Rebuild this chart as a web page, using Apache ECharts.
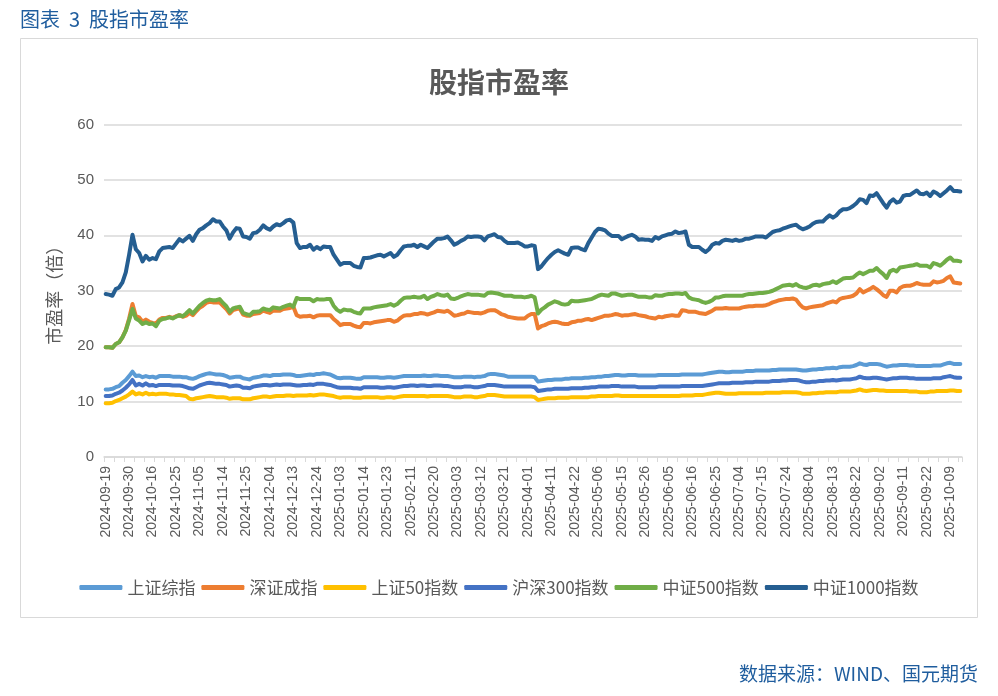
<!DOCTYPE html>
<html>
<head>
<meta charset="utf-8">
<script src="https://cdn.jsdelivr.net/npm/echarts@6/dist/echarts.min.js"></script>
<style>
html,body{margin:0;padding:0;background:#fff;}
#c{width:998px;height:696px;}
</style>
</head>
<body>
<div id="c"></div>
<script>
// ---- calendar (trading days) ----
const startDate = '2024-09-19';
const endDate = '2025-10-14';
const holidays = ['2024-10-01','2024-10-02','2024-10-03','2024-10-04','2024-10-07',
  '2025-01-01','2025-01-28','2025-01-29','2025-01-30','2025-01-31','2025-02-03','2025-02-04',
  '2025-04-04','2025-05-01','2025-05-02','2025-05-05','2025-06-02',
  '2025-10-01','2025-10-02','2025-10-03','2025-10-06','2025-10-07','2025-10-08'];

// ---- series values (P/E) ----
const sseComposite = [
12.2,12.2,12.3,12.6,12.8,13.4,13.9,14.6,15.4,14.6,
14.7,14.4,14.6,14.4,14.5,14.3,14.6,14.6,14.6,14.6,
14.5,14.5,14.5,14.4,14.4,14.2,14.1,14.3,14.6,14.8,
15.0,15.1,15.0,14.9,14.9,14.8,14.6,14.3,14.4,14.5,
14.5,14.2,14.1,14.0,14.3,14.4,14.5,14.7,14.7,14.6,
14.8,14.8,14.8,14.9,14.9,14.9,14.8,14.6,14.6,14.7,
14.8,14.9,14.8,15.0,15.0,15.1,15.0,14.9,14.6,14.3,
14.2,14.3,14.3,14.3,14.2,14.1,14.1,14.4,14.4,14.4,
14.4,14.4,14.3,14.3,14.4,14.4,14.3,14.4,14.5,14.6,
14.6,14.6,14.6,14.6,14.6,14.7,14.6,14.6,14.7,14.7,
14.6,14.6,14.6,14.5,14.4,14.4,14.4,14.5,14.5,14.5,
14.4,14.5,14.5,14.6,14.9,15.0,15.0,14.9,14.8,14.7,
14.5,14.5,14.5,14.5,14.5,14.5,14.5,14.5,14.4,13.6,
13.7,13.8,13.9,13.9,14.0,14.0,14.0,14.1,14.1,14.2,
14.2,14.2,14.2,14.3,14.3,14.4,14.4,14.5,14.5,14.6,
14.6,14.7,14.8,14.8,14.7,14.7,14.8,14.8,14.8,14.7,
14.7,14.7,14.7,14.7,14.7,14.8,14.8,14.8,14.8,14.8,
14.8,14.8,14.9,14.9,14.9,14.9,14.9,14.9,14.9,15.0,
15.1,15.2,15.3,15.4,15.4,15.3,15.3,15.4,15.4,15.4,
15.4,15.5,15.5,15.5,15.6,15.6,15.6,15.6,15.6,15.7,
15.7,15.8,15.8,15.8,15.8,15.8,15.8,15.7,15.6,15.6,
15.7,15.8,15.8,15.9,15.9,16.0,16.0,16.1,16.0,16.2,
16.3,16.3,16.3,16.4,16.6,16.9,16.7,16.6,16.8,16.8,
16.8,16.7,16.5,16.3,16.4,16.5,16.5,16.6,16.6,16.6,
16.5,16.5,16.4,16.4,16.4,16.4,16.4,16.5,16.5,16.5,
16.7,16.9,17.0,16.8,16.8,16.8];

const szseComponent = [
19.8,19.8,19.7,20.4,20.7,21.6,22.9,25.0,27.6,25.4,
25.2,24.4,24.8,24.4,24.2,24.1,24.8,25.1,25.1,25.3,
25.1,25.4,25.6,25.3,25.5,26.0,25.6,26.3,26.9,27.3,
27.8,28.0,27.9,27.9,27.9,27.3,26.7,25.9,26.5,26.7,
26.8,25.7,25.5,25.5,25.8,25.9,26.0,26.4,26.2,26.0,
26.4,26.4,26.4,26.7,26.8,26.9,27.1,25.6,25.3,25.4,
25.4,25.5,25.2,25.5,25.6,25.6,25.6,25.6,24.9,24.4,
23.8,24.0,24.0,24.0,23.7,23.5,23.4,24.2,24.2,24.1,
24.3,24.4,24.5,24.6,24.7,24.7,24.4,24.6,25.1,25.5,
25.6,25.6,25.8,25.8,26.0,25.9,25.7,25.9,26.1,26.4,
26.3,26.2,26.4,26.0,25.5,25.6,25.8,25.9,26.2,26.1,
26.0,26.0,25.9,26.1,26.4,26.5,26.5,26.2,25.8,25.6,
25.3,25.2,25.1,25.0,25.0,25.0,25.5,25.8,25.8,23.2,
23.6,23.8,24.1,24.3,24.4,24.3,24.1,24.0,24.0,24.3,
24.4,24.6,24.6,24.8,24.9,24.7,24.9,25.1,25.3,25.5,
25.5,25.6,25.8,25.7,25.5,25.6,25.6,25.7,25.8,25.6,
25.5,25.4,25.2,25.1,25.0,25.3,25.2,25.4,25.5,25.6,
25.5,25.5,26.5,26.4,26.2,26.2,26.2,26.0,25.9,25.8,
26.1,26.4,26.8,26.8,26.8,26.9,26.8,26.8,26.8,26.8,
27.0,27.1,27.2,27.2,27.3,27.3,27.3,27.4,27.6,27.9,
28.1,28.3,28.4,28.5,28.5,28.6,28.4,27.6,27.0,26.8,
27.0,27.1,27.2,27.3,27.4,27.7,27.9,28.1,27.9,28.5,
28.7,28.8,28.9,29.1,29.5,30.3,29.7,30.0,30.3,30.7,
30.3,29.8,29.2,28.9,30.0,30.0,29.7,30.5,30.8,30.9,
30.9,31.1,31.4,31.2,31.1,31.1,31.1,31.7,31.5,31.6,
31.8,32.3,32.6,31.5,31.4,31.3];

const sse50 = [
9.7,9.7,9.8,10.1,10.3,10.6,10.9,11.3,11.8,11.3,
11.5,11.3,11.6,11.3,11.4,11.3,11.4,11.4,11.4,11.3,
11.3,11.2,11.2,11.1,11.0,10.5,10.4,10.6,10.7,10.8,
10.9,11.0,10.9,10.8,10.8,10.8,10.7,10.5,10.6,10.6,
10.6,10.4,10.4,10.4,10.6,10.7,10.8,10.9,10.9,10.8,
10.9,11.0,11.0,11.0,11.1,11.1,11.0,11.1,11.1,11.1,
11.1,11.2,11.1,11.2,11.3,11.3,11.2,11.1,11.0,10.8,
10.7,10.8,10.8,10.8,10.7,10.7,10.7,10.8,10.8,10.8,
10.8,10.8,10.7,10.7,10.8,10.8,10.7,10.8,10.9,11.0,
11.0,11.0,11.0,11.0,11.0,11.0,10.9,11.0,11.0,11.0,
11.0,11.0,11.0,10.9,10.8,10.8,10.8,10.9,10.9,10.9,
10.8,10.8,10.9,11.0,11.2,11.2,11.2,11.1,11.0,10.9,
10.9,10.9,10.9,10.9,10.9,10.9,10.9,10.9,10.8,10.3,
10.4,10.5,10.6,10.6,10.6,10.7,10.7,10.7,10.7,10.8,
10.8,10.8,10.8,10.8,10.8,10.9,10.9,11.0,11.0,11.0,
11.0,11.0,11.1,11.1,11.0,11.0,11.0,11.0,11.0,11.0,
11.0,11.0,11.0,11.0,11.0,11.0,11.0,11.0,11.0,11.0,
11.0,11.0,11.1,11.1,11.1,11.1,11.2,11.2,11.2,11.3,
11.4,11.5,11.6,11.6,11.5,11.4,11.4,11.4,11.4,11.5,
11.5,11.5,11.5,11.5,11.5,11.5,11.5,11.6,11.6,11.6,
11.6,11.6,11.7,11.7,11.7,11.7,11.7,11.6,11.4,11.4,
11.4,11.5,11.5,11.6,11.6,11.7,11.7,11.7,11.7,11.8,
11.8,11.8,11.8,11.9,12.0,12.2,12.0,11.9,12.0,12.1,
12.1,12.0,12.0,11.9,11.9,11.9,11.9,11.9,11.9,11.9,
11.8,11.8,11.8,11.7,11.7,11.7,11.8,11.8,11.9,11.9,
11.9,11.9,12.0,12.0,11.9,11.9];

const csi300 = [
11.0,11.0,11.1,11.4,11.6,12.0,12.5,13.1,13.9,12.9,
13.2,12.9,13.3,12.9,13.0,12.8,13.0,13.0,13.0,13.0,
12.9,12.9,12.9,12.8,12.6,12.4,12.3,12.6,12.9,13.1,
13.3,13.4,13.3,13.2,13.2,13.1,13.0,12.7,12.8,12.9,
12.8,12.5,12.5,12.4,12.7,12.8,12.9,13.0,13.0,12.9,
13.0,13.1,13.0,13.1,13.1,13.1,13.0,12.9,12.9,13.0,
13.0,13.1,13.0,13.2,13.2,13.2,13.1,13.0,12.8,12.6,
12.5,12.5,12.5,12.5,12.4,12.4,12.3,12.6,12.6,12.6,
12.6,12.6,12.5,12.5,12.6,12.6,12.5,12.6,12.7,12.8,
12.8,12.9,12.9,12.8,12.9,12.9,12.8,12.8,12.9,12.9,
12.9,12.8,12.8,12.7,12.6,12.6,12.6,12.7,12.7,12.7,
12.6,12.6,12.7,12.8,13.0,13.0,13.0,12.9,12.8,12.7,
12.7,12.7,12.7,12.7,12.7,12.7,12.7,12.7,12.6,11.9,
12.0,12.1,12.2,12.2,12.3,12.3,12.3,12.3,12.3,12.4,
12.4,12.4,12.4,12.5,12.5,12.6,12.6,12.7,12.7,12.7,
12.7,12.8,12.8,12.8,12.7,12.7,12.7,12.7,12.7,12.6,
12.6,12.6,12.6,12.6,12.6,12.7,12.7,12.7,12.7,12.7,
12.7,12.7,12.8,12.8,12.8,12.8,12.8,12.8,12.8,12.9,
13.0,13.1,13.2,13.3,13.3,13.3,13.3,13.4,13.4,13.4,
13.4,13.5,13.5,13.5,13.6,13.6,13.6,13.6,13.6,13.7,
13.7,13.7,13.8,13.8,13.9,13.9,13.9,13.8,13.6,13.5,
13.5,13.6,13.6,13.7,13.7,13.8,13.8,13.9,13.8,13.9,
14.0,14.0,14.0,14.1,14.2,14.5,14.3,14.2,14.2,14.3,
14.3,14.2,14.1,14.0,14.1,14.2,14.2,14.3,14.3,14.3,
14.2,14.2,14.1,14.1,14.1,14.1,14.1,14.2,14.2,14.2,
14.4,14.5,14.6,14.4,14.3,14.3];

const csi500 = [
19.8,19.8,19.7,20.4,20.7,21.6,22.8,24.7,26.7,25.0,
24.6,24.0,24.3,24.0,24.1,23.6,24.6,24.9,25.0,25.2,
25.0,25.3,25.6,25.4,25.9,26.5,25.9,26.6,27.3,27.8,
28.2,28.4,28.3,28.3,28.5,27.8,27.2,26.2,26.8,27.0,
27.1,26.0,25.8,25.6,26.2,26.2,26.3,26.8,26.6,26.5,
27.0,26.9,26.8,27.1,27.3,27.5,27.1,28.7,28.5,28.5,
28.5,28.5,28.1,28.5,28.4,28.4,28.5,28.5,27.3,26.6,
26.2,26.6,26.5,26.5,26.2,26.0,25.9,26.8,26.8,26.8,
27.0,27.1,27.2,27.3,27.4,27.6,27.3,27.6,28.2,28.7,
28.8,28.8,28.9,28.8,28.8,29.1,28.5,28.9,29.1,29.4,
29.2,29.1,29.3,28.6,28.5,28.7,29.0,29.2,29.4,29.3,
29.3,29.3,29.2,29.1,29.6,29.7,29.6,29.5,29.3,29.1,
29.1,29.1,28.9,28.9,28.9,28.8,28.9,29.1,28.8,25.9,
26.6,27.0,27.5,27.8,28.1,27.9,27.6,27.5,27.6,28.2,
28.1,28.1,28.2,28.3,28.4,28.5,28.8,29.1,29.3,29.2,
29.1,29.5,29.5,29.3,29.1,29.2,29.3,29.3,29.1,28.9,
28.9,28.9,28.8,28.8,29.2,29.1,29.1,29.3,29.4,29.4,
29.5,29.5,29.4,29.6,28.8,28.5,28.4,28.3,28.0,27.8,
28.0,28.3,28.8,28.8,29.0,29.1,29.1,29.1,29.1,29.1,
29.1,29.3,29.4,29.4,29.5,29.6,29.6,29.7,29.8,30.0,
30.3,30.6,30.9,31.0,31.1,30.9,31.2,30.8,30.6,30.5,
30.7,31.0,31.1,30.9,31.2,31.3,31.4,31.7,31.4,31.8,
32.2,32.3,32.3,32.4,32.9,33.3,33.0,33.3,33.6,33.6,
34.1,33.5,33.0,32.3,33.5,33.8,33.5,34.2,34.3,34.4,
34.5,34.6,34.8,34.5,34.5,34.5,34.2,35.0,34.8,34.5,
35.0,35.6,36.0,35.4,35.4,35.3];

const csi1000 = [
29.4,29.3,29.1,30.3,30.6,31.5,33.3,36.5,40.1,37.5,
36.8,35.3,36.3,35.6,35.9,35.7,37.1,37.7,37.8,37.9,
37.7,38.5,39.3,38.9,39.4,39.9,39.0,40.2,41.0,41.3,
41.8,42.2,42.9,42.5,42.5,41.6,40.9,39.4,40.5,41.3,
41.2,39.8,39.7,39.4,40.4,40.5,41.0,41.8,41.3,41.0,
41.6,42.0,41.8,42.2,42.7,42.8,42.3,38.6,37.7,37.9,
37.9,38.3,37.4,37.9,37.5,38.0,37.9,37.9,36.5,35.6,
34.7,35.0,35.0,35.0,34.5,34.3,34.2,35.9,35.9,36.0,
36.2,36.4,36.5,36.2,36.5,36.8,36.1,36.5,37.3,38.0,
38.1,38.1,38.3,37.9,38.3,38.0,37.7,38.3,38.9,39.4,
39.4,39.5,39.8,39.1,38.3,38.6,39.0,39.3,39.8,39.7,
39.8,39.8,39.7,39.1,39.8,40.0,40.2,39.7,39.6,39.0,
38.6,38.6,38.6,38.7,38.4,38.0,38.0,38.2,38.1,33.9,
34.4,35.2,35.9,36.5,37.0,37.3,37.0,36.7,36.5,37.7,
37.8,37.8,37.5,37.3,38.6,39.6,40.6,41.2,41.1,40.9,
40.3,39.9,39.9,39.9,39.3,39.6,39.9,40.1,39.8,39.2,
39.3,39.2,39.2,39.0,39.7,39.4,39.8,40.0,40.2,40.3,
40.7,40.4,40.5,40.7,38.3,37.9,37.9,37.9,37.4,37.0,
37.5,38.3,38.6,38.5,39.0,39.2,39.1,39.0,39.2,39.0,
39.1,39.4,39.4,39.6,39.8,39.8,39.8,39.6,40.1,40.6,
40.8,40.9,41.2,41.4,41.6,41.8,41.9,41.4,41.1,41.3,
41.6,42.1,42.4,42.5,42.5,43.1,43.6,43.2,43.6,44.3,
44.7,44.7,44.9,45.3,45.8,46.5,46.4,45.8,47.2,47.1,
47.6,46.7,45.8,45.0,46.0,46.5,45.9,46.1,47.1,47.3,
47.3,47.7,48.1,47.5,47.4,47.7,47.1,47.9,47.6,47.1,
47.6,48.1,48.7,48.0,48.0,47.9];

const seriesNames = ['上证综指','深证成指','上证50指数','沪深300指数','中证500指数','中证1000指数'];
const seriesColors = ['#5B9BD5','#ED7D31','#FFC000','#4472C4','#70AD47','#255E91'];
const seriesValues = [sseComposite, szseComponent, sse50, csi300, csi500, csi1000];
const yTicks = [0,10,20,30,40,50,60];

// build trading-day categories
function pad(n){return n<10?'0'+n:''+n;}
const dates = [];
(function(){
  const hs = new Set(holidays);
  let d = new Date(startDate+'T00:00:00Z');
  const end = new Date(endDate+'T00:00:00Z');
  while (d <= end) {
    const wd = d.getUTCDay();
    const s = d.getUTCFullYear()+'-'+pad(d.getUTCMonth()+1)+'-'+pad(d.getUTCDate());
    if (wd !== 0 && wd !== 6 && !hs.has(s)) dates.push(s);
    d = new Date(d.getTime()+86400000);
  }
})();

const chart = echarts.init(document.getElementById('c'));
const grey = '#595959';
const cjk = '"Noto Sans CJK SC", "Liberation Sans", sans-serif';
const lat = '"Liberation Sans", "Noto Sans CJK SC", sans-serif';
const blue = '#1F5D9E';

chart.setOption({
  backgroundColor: '#ffffff',
  animation: false,
  title: {
    text: '股指市盈率',
    left: 'center',
    top: 63,
    textStyle: {fontFamily: cjk, fontSize: 28, fontWeight: 'bold', color: grey}
  },
  graphic: [
    {type:'rect', shape:{x:20.5,y:38.5,width:957,height:579}, style:{fill:'none', stroke:'#d9d9d9', lineWidth:1}, silent:true},
    {type:'text', left:20, top:9, style:{text:'图表  3  股指市盈率', fontFamily: cjk, fontSize:20, fill: blue}},
    {type:'text', right:20, top:664, style:{text:'数据来源：WIND、国元期货', fontFamily: cjk, fontSize:19, fill: blue}}
  ],
  legend: {
    data: seriesNames,
    left: 'center',
    top: 574,
    icon: 'roundRect',
    itemWidth: 43,
    itemHeight: 5,
    itemGap: 6,
    textStyle: {fontFamily: cjk, fontSize: 17, color: grey}
  },
  grid: {left: 104, right: 36, top: 124.5, bottom: 239, containLabel: false},
  xAxis: {
    type: 'category',
    data: dates,
    boundaryGap: true,
    axisLine: {lineStyle: {color: '#d9d9d9', width: 1.5}},
    axisTick: {show: true, interval: 2, length: 5, lineStyle: {color: '#d9d9d9'}},
    axisLabel: {interval: 6, rotate: 90, fontFamily: lat, fontSize: 14, color: grey, margin: 9},
    splitLine: {show: false}
  },
  yAxis: {
    type: 'value',
    min: yTicks[0],
    max: yTicks[yTicks.length-1],
    interval: 10,
    name: '市盈率（倍）',
    nameLocation: 'middle',
    nameGap: 41,
    nameTextStyle: {fontFamily: cjk, fontSize: 18, color: grey},
    axisLine: {show: false},
    axisTick: {show: false},
    axisLabel: {fontFamily: lat, fontSize: 15, color: grey, margin: 10},
    splitLine: {lineStyle: {color: '#d9d9d9', width: 1.5}}
  },
  series: seriesNames.map((n, i) => ({
    name: n,
    type: 'line',
    data: seriesValues[i],
    showSymbol: false,
    symbol: 'none',
    lineStyle: {width: 4, color: seriesColors[i], join: 'round', cap: 'round'},
    itemStyle: {color: seriesColors[i]},
    emphasis: {disabled: true}
  }))
});
</script>
</body>
</html>
